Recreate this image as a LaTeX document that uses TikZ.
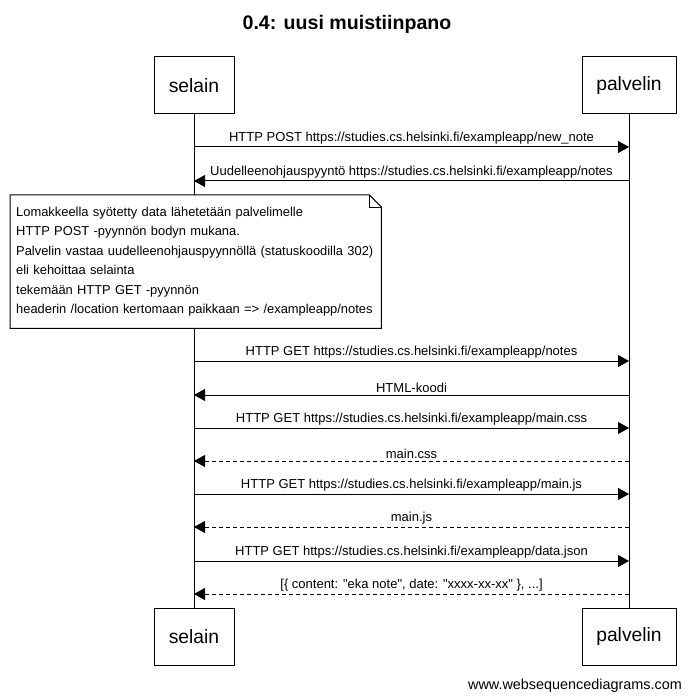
\documentclass[tikz,border=0pt]{standalone}
\usepackage{fontspec}
\setmainfont{Liberation Sans}[Ligatures=TeXOff]
\usepackage{tikz}
\usetikzlibrary{arrows.meta,positioning}

\begin{document}
\begin{tikzpicture}[x=1pt,y=-1pt]
        % \tikzstyle{every path}=[very thick]

        \edef\widthactor{80pt}
        \tikzstyle{actor}=[draw,line width=1pt,minimum width=\widthactor,minimum height=57pt,font=\fontsize{19.3}{23}\selectfont]
        \tikzstyle{msg}=[-{Triangle[length=11pt,width=12pt]},line width=1pt]
        \tikzstyle{reply}=[msg,dash pattern=on 4pt off 3pt]
        \tikzstyle{msglabel}=[above,inner sep=2pt,font=\fontsize{13}{15}\selectfont]
        \tikzstyle{notebox}=[fill=white,align=left,anchor=north west,inner xsep=6pt,
            text width=359pt,minimum height=133pt,font=\fontsize{12.9}{19.4}\selectfont]

        \useasboundingbox (0,0) rectangle (691,700);

        %% Title
        \node [font=\fontsize{19.6}{23}\selectfont\bfseries] (otsikko) at (347,24) {0.4: uusi muistiinpano};

        %% Actors, top and bottom
        \node [actor] (selain) at (194,85.5) {selain};
        \node [actor,minimum width=94pt] (palvelin) at (629,85.5) {palvelin};
        \node [actor] (selainalas) at (194,637) {selain};
        \node [actor,minimum width=94pt] (palvelinalas) at (629,637) {palvelin};

        %% Lifelines
        \draw [line width=1pt] (selain) -- (selainalas);
        \draw [line width=1pt] (palvelin) -- (palvelinalas);

        \foreach \i/\y in {1/147,2/181,3/361,4/395,5/428,6/461,7/494,8/527,9/561,10/594} {
            \coordinate (s\i) at (194,\y);
            \coordinate (p\i) at (629,\y);
        }

        %% Messages
        \draw [msg] (s1) -- node [msglabel] {HTTP POST https://studies.cs.helsinki.fi/exampleapp/new\_note} (p1);
        \draw [msg] (p2) -- node [msglabel] {Uudelleenohjauspyyntö https://studies.cs.helsinki.fi/exampleapp/notes} (s2);
        \draw [msg] (s3) -- node [msglabel] {HTTP GET https://studies.cs.helsinki.fi/exampleapp/notes} (p3);
        \draw [msg] (p4) -- node [msglabel] {HTML-koodi} (s4);
        \draw [msg] (s5) -- node [msglabel] {HTTP GET https://studies.cs.helsinki.fi/exampleapp/main.css} (p5);
        \draw [reply] (p6) -- node [msglabel] {main.css} (s6);
        \draw [msg] (s7) -- node [msglabel] {HTTP GET https://studies.cs.helsinki.fi/exampleapp/main.js} (p7);
        \draw [reply] (p8) -- node [msglabel] {main.js} (s8);
        \draw [msg] (s9) -- node [msglabel] {HTTP GET https://studies.cs.helsinki.fi/exampleapp/data.json} (p9);
        \draw [reply] (p10) -- node [msglabel] {[\{ content: "eka note", date: "xxxx-xx-xx" \}, ...]} (s10);

        %% Note over selain
        \node [notebox] (huom) at (10,195) {Lomakkeella syötetty data lähetetään palvelimelle\\
            HTTP POST -pyynnön bodyn mukana.\\
            Palvelin vastaa uudelleenohjauspyynnöllä (statuskoodilla 302)\\
            eli kehoittaa selainta\\
            tekemään HTTP GET -pyynnön\\
            headerin /location kertomaan paikkaan => /exampleapp/notes};
        \draw [line width=1pt] (huom.north west) -- ([xshift=-12pt]huom.north east)
            -- ([yshift=-12pt]huom.north east) -- (huom.south east) -- (huom.south west) -- cycle;
        \draw ([xshift=-12pt]huom.north east) -- ([xshift=-12pt,yshift=-12pt]huom.north east)
            -- ([yshift=-12pt]huom.north east);

        %% Footer
        \node [anchor=base east,inner sep=0pt,font=\fontsize{14.4}{16}\selectfont] (wsd) at (682,689) {www.websequencediagrams.com};

\end{tikzpicture}
\end{document}
